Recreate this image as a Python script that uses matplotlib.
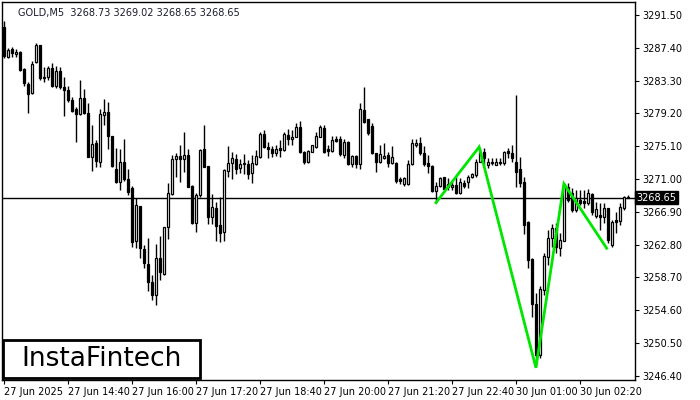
import matplotlib
matplotlib.use("Agg")
import matplotlib.pyplot as plt
from matplotlib.patches import Rectangle

# GOLD M5 bars (open, high, low, close)
opens = [3290.00, 3286.29, 3287.25, 3286.59, 3286.91, 3284.75, 3282.88, 3281.71, 3285.66, 3287.75,
         3283.79, 3283.79, 3284.88, 3282.63, 3284.54, 3282.54, 3282.13, 3280.88, 3279.75, 3279.09,
         3281.13, 3279.29, 3273.71, 3275.46, 3273.16, 3279.00, 3279.41, 3276.38, 3272.21, 3270.66,
         3273.16, 3270.96, 3269.84, 3263.29, 3267.63, 3262.21, 3260.38, 3258.16, 3256.50, 3261.09,
         3259.13, 3265.04, 3269.13, 3273.46, 3273.88, 3273.46, 3274.00, 3270.13, 3265.46, 3269.00,
         3274.71, 3272.63, 3266.29, 3267.34, 3265.25, 3264.41, 3272.04, 3272.96, 3273.46, 3272.34,
         3272.90, 3272.88, 3271.71, 3272.88, 3273.71, 3276.63, 3274.96, 3274.71, 3274.21, 3274.84,
         3274.63, 3276.50, 3275.96, 3276.29, 3277.46, 3274.41, 3273.16, 3274.41, 3275.04, 3276.29,
         3277.34, 3274.71, 3274.50, 3275.96, 3275.96, 3274.00, 3275.66, 3272.88, 3273.88, 3272.88,
         3279.63, 3278.46, 3277.63, 3274.21, 3273.16, 3273.59, 3274.00, 3272.96, 3273.04, 3271.04,
         3270.38, 3270.38, 3272.88, 3275.25, 3275.46, 3274.29, 3272.96, 3272.63, 3269.54, 3270.13,
         3271.21, 3269.96, 3269.96, 3270.25, 3269.29, 3270.54, 3270.66, 3271.21, 3271.50, 3273.16,
         3274.41, 3272.75, 3273.16, 3272.75, 3273.00, 3272.96, 3274.54, 3274.29, 3273.16, 3272.21,
         3270.66, 3265.66, 3260.96, 3255.38, 3249.00, 3257.13, 3261.29, 3263.59, 3264.84, 3262.34,
         3263.29, 3270.04, 3269.21, 3267.13, 3268.38, 3268.29, 3267.96, 3269.13, 3266.38, 3266.50,
         3266.21, 3267.34, 3262.75, 3265.88, 3265.79, 3267.34, 3268.73]
highs = [3290.75, 3287.38, 3287.50, 3287.25, 3287.04, 3284.90, 3283.16, 3285.79, 3287.96, 3287.75,
         3285.04, 3285.13, 3285.54, 3285.13, 3284.96, 3283.79, 3282.63, 3281.21, 3280.00, 3283.38,
         3282.21, 3280.54, 3277.75, 3275.88, 3279.75, 3281.00, 3280.66, 3276.40, 3274.84, 3274.75,
         3276.00, 3272.25, 3270.13, 3268.63, 3267.63, 3262.75, 3263.63, 3259.00, 3262.88, 3263.88,
         3265.00, 3270.46, 3274.00, 3274.21, 3275.25, 3276.91, 3274.75, 3270.20, 3269.29, 3274.70,
         3277.75, 3272.63, 3269.13, 3268.16, 3268.79, 3272.20, 3275.13, 3274.41, 3274.13, 3273.46,
         3274.13, 3273.38, 3274.00, 3274.63, 3276.91, 3277.13, 3275.66, 3275.13, 3275.25, 3275.88,
         3276.91, 3277.21, 3277.13, 3277.96, 3278.29, 3274.45, 3274.63, 3275.30, 3276.91, 3277.75,
         3277.75, 3275.25, 3276.38, 3276.38, 3276.38, 3275.96, 3275.70, 3274.00, 3274.00, 3280.54,
         3282.54, 3278.50, 3277.96, 3274.29, 3275.25, 3275.46, 3274.41, 3275.13, 3273.10, 3271.29,
         3271.20, 3273.38, 3275.96, 3275.96, 3276.21, 3275.13, 3274.00, 3272.70, 3270.66, 3271.29,
         3271.29, 3271.09, 3270.66, 3271.29, 3271.09, 3270.88, 3271.50, 3271.71, 3273.46, 3274.84,
         3274.84, 3273.59, 3273.59, 3273.59, 3273.59, 3274.45, 3274.84, 3275.25, 3281.50, 3273.79,
         3271.21, 3265.70, 3261.09, 3256.71, 3257.63, 3261.71, 3264.63, 3265.38, 3265.46, 3264.21,
         3270.46, 3270.46, 3269.84, 3269.63, 3269.63, 3269.63, 3269.71, 3269.20, 3268.16, 3267.96,
         3267.96, 3267.40, 3265.88, 3266.91, 3267.96, 3268.88, 3269.02]
lows = [3286.13, 3286.13, 3286.25, 3286.25, 3284.50, 3282.63, 3279.29, 3281.63, 3285.50, 3283.38,
        3283.16, 3283.38, 3282.54, 3282.34, 3282.21, 3278.88, 3280.66, 3279.41, 3275.66, 3279.00,
        3279.13, 3273.71, 3272.04, 3272.46, 3272.46, 3277.75, 3274.71, 3272.50, 3270.54, 3269.63,
        3270.79, 3269.00, 3262.46, 3262.34, 3261.13, 3259.84, 3257.04, 3255.88, 3255.25, 3258.38,
        3259.00, 3263.46, 3269.00, 3271.29, 3270.66, 3271.91, 3270.00, 3265.40, 3264.41, 3268.80,
        3272.50, 3265.38, 3265.38, 3263.29, 3263.16, 3263.30, 3271.29, 3271.00, 3271.63, 3271.71,
        3271.63, 3270.96, 3270.54, 3272.75, 3273.59, 3274.84, 3273.59, 3273.71, 3273.88, 3273.79,
        3274.54, 3275.25, 3275.25, 3276.21, 3274.29, 3272.88, 3273.04, 3274.35, 3274.84, 3276.21,
        3274.21, 3273.88, 3274.41, 3275.66, 3273.88, 3273.59, 3272.75, 3272.46, 3272.34, 3272.21,
        3278.04, 3276.50, 3274.13, 3271.91, 3272.96, 3273.46, 3272.46, 3272.88, 3270.46, 3270.38,
        3270.13, 3270.29, 3272.80, 3275.04, 3274.00, 3272.63, 3271.79, 3269.41, 3268.04, 3270.04,
        3269.63, 3269.63, 3269.63, 3269.13, 3269.13, 3269.84, 3269.84, 3271.09, 3271.29, 3273.10,
        3272.75, 3272.34, 3272.75, 3272.70, 3272.75, 3272.75, 3273.59, 3273.16, 3270.04, 3270.04,
        3264.13, 3259.84, 3253.79, 3247.90, 3248.63, 3256.50, 3260.25, 3262.54, 3261.71, 3261.38,
        3263.25, 3268.16, 3266.91, 3266.91, 3267.75, 3267.34, 3267.75, 3266.50, 3266.09, 3264.63,
        3265.46, 3262.96, 3262.54, 3264.21, 3265.25, 3267.13, 3268.65]
closes = [3286.38, 3287.13, 3286.75, 3286.91, 3284.63, 3283.04, 3281.63, 3285.38, 3287.75, 3283.59,
          3283.59, 3284.88, 3282.63, 3284.54, 3282.46, 3282.13, 3280.88, 3279.54, 3279.13, 3281.13,
          3279.21, 3273.71, 3275.38, 3273.29, 3279.09, 3279.41, 3276.38, 3272.63, 3270.66, 3273.16,
          3270.96, 3269.41, 3263.16, 3267.75, 3262.34, 3260.54, 3258.16, 3256.50, 3261.09, 3259.41,
          3264.96, 3269.21, 3273.46, 3273.88, 3273.46, 3274.00, 3270.04, 3265.46, 3269.00, 3274.63,
          3272.54, 3266.29, 3267.46, 3265.13, 3264.29, 3272.13, 3272.96, 3273.59, 3272.21, 3272.88,
          3272.95, 3271.63, 3272.96, 3273.88, 3276.63, 3274.96, 3274.71, 3274.21, 3274.71, 3274.63,
          3276.63, 3275.96, 3276.29, 3277.54, 3274.41, 3273.16, 3274.50, 3275.25, 3276.38, 3277.54,
          3274.41, 3274.50, 3275.88, 3275.79, 3274.13, 3275.66, 3272.88, 3273.88, 3272.88, 3279.71,
          3278.16, 3276.71, 3274.21, 3273.16, 3274.13, 3273.88, 3273.04, 3273.71, 3270.79, 3270.79,
          3271.09, 3272.88, 3275.46, 3275.46, 3274.21, 3272.88, 3272.63, 3269.54, 3270.13, 3271.09,
          3269.71, 3270.38, 3270.25, 3269.29, 3270.66, 3270.13, 3271.29, 3271.63, 3273.16, 3274.41,
          3273.59, 3273.16, 3273.00, 3273.16, 3273.16, 3274.41, 3274.21, 3273.59, 3271.91, 3270.46,
          3265.25, 3260.88, 3255.38, 3249.00, 3257.21, 3261.38, 3263.59, 3264.84, 3262.54, 3263.38,
          3270.38, 3268.38, 3267.13, 3268.59, 3268.04, 3267.96, 3269.21, 3266.91, 3267.21, 3266.21,
          3267.34, 3263.38, 3265.66, 3265.66, 3267.54, 3268.79, 3268.65]

# inverse head & shoulders pattern (bar index, price)
pattern_idx = [108, 118.8, 133, 140, 150.7]
pattern_px = [3268.04, 3275.0, 3247.4, 3270.4, 3262.34]

last_price = 3268.65
yticks = [3246.40, 3250.50, 3254.60, 3258.70, 3262.80, 3266.90,
          3271.00, 3275.10, 3279.20, 3283.30, 3287.40, 3291.50]
xtick_idx = [0, 16, 32, 48, 64, 80, 96, 112, 128, 144]
xtick_labels = ['27 Jun 2025', '27 Jun 14:40', '27 Jun 16:00', '27 Jun 17:20', '27 Jun 18:40',
                '27 Jun 20:00', '27 Jun 21:20', '27 Jun 22:40', '30 Jun 01:00', '30 Jun 02:20']

fig = plt.figure(figsize=(7, 4), dpi=100)
ax = fig.add_axes([0.003, 0.05, 0.904, 0.945])

x = list(range(len(opens)))
ax.vlines(x, lows, highs, color='black', lw=1, zorder=2)
for i in x:
    o, c = opens[i], closes[i]
    bottom = min(o, c)
    h = max(abs(c - o), 0.06)
    face = 'white' if c >= o else 'black'
    ax.add_patch(Rectangle((i - 0.35, bottom), 0.7, h, facecolor=face,
                           edgecolor='black', lw=0.9, zorder=3))

ax.axhline(last_price, color='black', lw=1, zorder=1)
ax.plot(pattern_idx, pattern_px, color='#00e600', lw=2.0, zorder=4, solid_joinstyle='miter')

ax.set_xlim(-0.5, 157.75)
ax.set_ylim(3245.875, 3293.125)

ax.yaxis.tick_right()
ax.set_yticks(yticks)
ax.set_yticklabels([f'{v:.2f}' for v in yticks], fontsize=7)
ax.set_xticks(xtick_idx)
ax.set_xticklabels(xtick_labels, fontsize=7, ha='left')
ax.tick_params(axis='both', length=3, width=0.8, pad=2, colors='black')
for sp in ax.spines.values():
    sp.set_linewidth(1)

ax.text(1.003, last_price, f'{last_price:.2f}', transform=ax.get_yaxis_transform(),
        fontsize=7, color='white', va='center', ha='left',
        bbox=dict(boxstyle='square,pad=0.15', facecolor='black', edgecolor='black'))

ax.text(0.025, 0.985, 'GOLD,M5  3268.73 3269.02 3268.65 3268.65', transform=ax.transAxes,
        fontsize=7, color='#1a1a2e', va='top', ha='left')

# logo box in the lower left corner
ax.add_patch(Rectangle((0.002, 0.006), 0.311, 0.1, transform=ax.transAxes,
                       facecolor='white', edgecolor='black', lw=2, zorder=6))
ax.text(0.157, 0.056, 'InstaFintech', transform=ax.transAxes, fontsize=19,
        ha='center', va='center', color='black', zorder=7)

fig.savefig('out.png', dpi=100, facecolor='white')
